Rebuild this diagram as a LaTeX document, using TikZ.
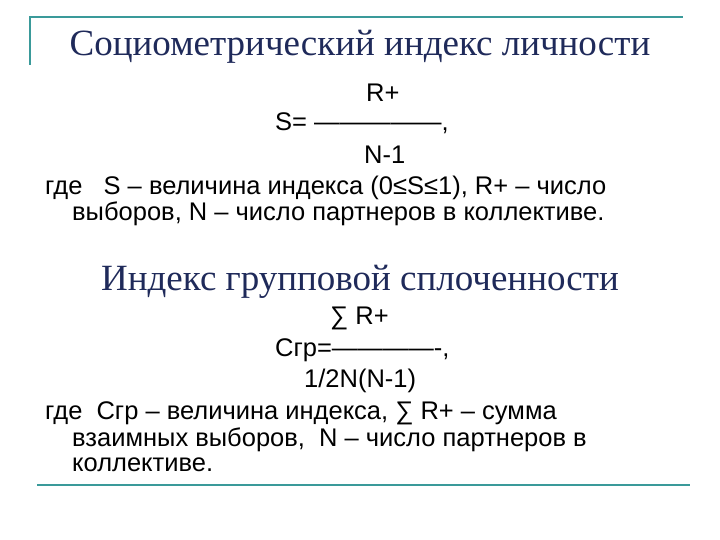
\documentclass[tikz,border=0pt]{standalone}
\usepackage{fontspec}
\setmainfont[Ligatures=ResetAll]{Liberation Sans}
\newfontfamily\ttl{Liberation Serif}
\definecolor{teal1}{HTML}{3A9A9A}
\definecolor{navy1}{HTML}{1F2A5A}
\begin{document}
\begin{tikzpicture}[x=1pt,y=-1pt,
  ttlstyle/.style={font=\ttl\fontsize{37}{40}\selectfont,text=navy1,inner sep=0},
  bodytxt/.style={font=\fontsize{25.5}{28}\selectfont,inner sep=0,anchor=west}]
\useasboundingbox[fill=white] (0,0) rectangle (720,540);
\draw[teal1,line width=2pt] (30,65) -- (30,17) -- (683,17);
\draw[teal1,line width=2.5pt] (37,485) -- (690,485);
\node[ttlstyle] (t1) at (360,47) {Социометрический индекс личности};
\node[bodytxt] (a1) at (366,93) {R+};
\node[bodytxt] (a2) at (275,123) {S= ---------------,};
\node[bodytxt] (a3) at (364,155) {N-1};
\node[bodytxt] (a4) at (45,188) {где\ \ \ S – величина индекса (0≤S≤1), R+ – число};
\node[bodytxt] (a5) at (72,214) {выборов, N – число партнеров в коллективе.};
\node[ttlstyle] (t2) at (360,282) {Индекс групповой сплоченности};
\node[bodytxt] (b1) at (330,318) {∑ R+};
\node[bodytxt] (b2) at (275,350) {Cгр=-------------,};
\node[bodytxt] (b3) at (304,381) {1/2N(N-1)};
\node[bodytxt] (b4) at (45,413) {где\ \ Сгр – величина индекса, ∑ R+ – сумма};
\node[bodytxt] (b5) at (72,440) {взаимных выборов,\ \ N – число партнеров в};
\node[bodytxt] (b6) at (72,465) {коллективе.};
\end{tikzpicture}
\end{document}
